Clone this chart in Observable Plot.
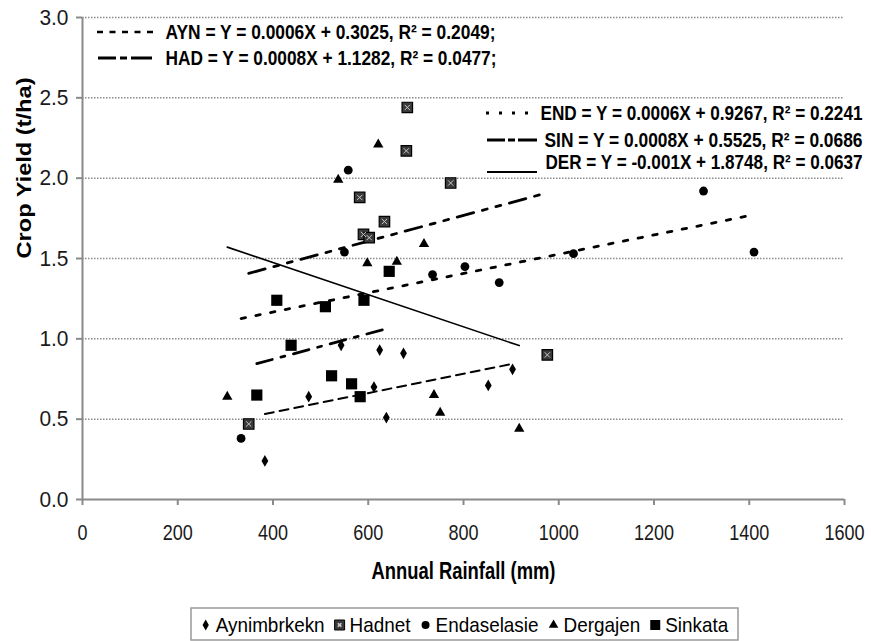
<!DOCTYPE html>
<html><head><meta charset="utf-8">
<script src="https://cdn.jsdelivr.net/npm/d3@7"></script>
<script src="https://cdn.jsdelivr.net/npm/@observablehq/plot@0.6"></script>
<style>
body{margin:0;background:#fff;font-family:"Liberation Sans",Arial,sans-serif;}
#chart{width:871px;}
#chart svg{display:block;}
</style></head><body><div id="chart"></div><script>
// ---- data ----
const seriesNames = ["Aynimbrkekn","Hadnet","Endaselasie","Dergajen","Sinkata"];
const aynRain  = [383,475,543,612,624,638,674,852,903];
const aynYield = [0.24,0.64,0.96,0.70,0.93,0.51,0.91,0.71,0.81];
const hadRain  = [349,582,590,602,634,680,682,773,976];
const hadYield = [0.47,1.88,1.65,1.63,1.73,2.17,2.44,1.97,0.90];
const endRain  = [333,550,558,735,803,875,1031,1304,1410];
const endYield = [0.38,1.54,2.05,1.40,1.45,1.35,1.53,1.92,1.54];
const derRain  = [304,537,598,621,660,717,738,751,917];
const derYield = [0.64,1.99,1.47,2.21,1.48,1.59,0.65,0.54,0.44];
const sinRain  = [366,408,438,510,523,565,583,591,644];
const sinYield = [0.65,1.24,0.96,1.20,0.77,0.72,0.64,1.24,1.42];

// trendline equations shown on the chart
const trendCodes      = ["AYN","HAD","END","SIN","DER"];
const trendSlopes     = [0.0006,0.0008,0.0006,0.0008,-0.001];
const trendIntercepts = [0.3025,1.1282,0.9267,0.5525,1.8748];
const trendR2         = [0.2049,0.0477,0.2241,0.0686,0.0637];
const trendSuffix     = [";",";","","",""];

const xTicks = [0,200,400,600,800,1000,1200,1400,1600];
const yTicks = [0,0.5,1.0,1.5,2.0,2.5,3.0];
const xTitle = "Annual Rainfall (mm)";
const yTitle = "Crop Yield (t/ha)";

// ---- build tables ----
const rec = (xs, ys) => xs.map((x,i)=>({rain:x, yield:ys[i]}));
const ayn = rec(aynRain, aynYield), had = rec(hadRain, hadYield),
      end = rec(endRain, endYield), der = rec(derRain, derYield),
      sin = rec(sinRain, sinYield);
const rainByCode = {AYN:aynRain, HAD:hadRain, END:endRain, SIN:sinRain, DER:derRain};
const trendLine = (k) => {
  const [lo, hi] = d3.extent(rainByCode[trendCodes[k]]);
  return [lo, hi].map(x => ({rain:x, yield: trendSlopes[k]*x + trendIntercepts[k]}));
};
const eqLabel = (k) => `${trendCodes[k]} = Y = ${trendSlopes[k]}X + ${trendIntercepts[k].toFixed(4)}, R\u00B2 = ${trendR2[k].toFixed(4)}${trendSuffix[k]}`;

// styles
const lineStyle = {
  AYN:{strokeDasharray:"9,6", strokeWidth:2},
  HAD:{strokeDasharray:"17,9,5,9,5,9", strokeWidth:2.8},
  END:{strokeDasharray:"4.5,10.5", strokeWidth:2.8},
  SIN:{strokeDasharray:"16,9,4,9", strokeWidth:2.8},
  DER:{strokeWidth:1.6}
};
const grey = "#8a8a8a";
const FONT = '"Liberation Sans", Arial, sans-serif';
const R = a => Math.sqrt(a/Math.PI);

const trendMarks = trendCodes.map((c,k) => Plot.line(trendLine(k), {x:"rain", y:"yield", stroke:"#000", ...lineStyle[c]}));

const eqLeft = [0,1].map((k,i) => Plot.text([eqLabel(k)], {text:d=>d, frameAnchor:"top-left", dx:83, dy:[15,41][i], textAnchor:"start", lineAnchor:"middle", fontWeight:"bold", fontSize:20, fill:"#000"}));
const eqRight = [2,3,4].map((k,i) => Plot.text([eqLabel(k)], {text:d=>d, frameAnchor:"top-right", dx:18, dy:[96,123,145][i], textAnchor:"end", lineAnchor:"middle", fontWeight:"bold", fontSize:20, fill:"#000"}));

const plot = Plot.plot({
  width:871, height:600,
  marginTop:17, marginLeft:82, marginRight:27, marginBottom:101,
  style:{fontFamily:FONT, fontSize:"20px", color:"#000", background:"#fff", overflow:"visible"},
  x:{domain:[0,1600]},
  y:{domain:[0,3]},
  marks:[
    Plot.gridY(yTicks.filter(d=>d>0), {stroke:grey, strokeOpacity:1, strokeWidth:1.5, strokeDasharray:"1.5,1.5"}),
    Plot.axisX({ticks:xTicks, tickSize:6, tickPadding:19, tickFormat:d=>String(d), label:null, stroke:grey, strokeWidth:2, fill:"#1a1a1a", fontSize:22}),
    Plot.axisY({ticks:yTicks, tickSize:6, tickPadding:8, tickFormat:d3.format(".1f"), label:null, stroke:grey, strokeWidth:2, fill:"#1a1a1a", fontSize:22}),
    Plot.ruleX([0], {stroke:grey, strokeWidth:2}),
    Plot.ruleY([0], {stroke:grey, strokeWidth:2}),
    ...trendMarks,
    Plot.dot(ayn, {x:"rain", y:"yield", symbol:"diamond", r:R(40), fill:"#000"}),
    Plot.dot(had, {x:"rain", y:"yield", symbol:"square", r:R(110), fill:"#3a3a3a", stroke:"#000", strokeWidth:1.2}),
    Plot.dot(had, {x:"rain", y:"yield", symbol:"times", r:2.5, stroke:"#c8c8c8", strokeWidth:1}),
    Plot.dot(end, {x:"rain", y:"yield", symbol:"circle", r:4.4, fill:"#000"}),
    Plot.dot(der, {x:"rain", y:"yield", symbol:"triangle", r:R(46), fill:"#000"}),
    Plot.dot(sin, {x:"rain", y:"yield", symbol:"square", r:R(125), fill:"#000"}),
    ...eqLeft, ...eqRight,
    Plot.text([xTitle], {text:d=>d, frameAnchor:"bottom", dy:79, fontWeight:"bold", fontSize:23, fill:"#000"}),
    Plot.text([yTitle], {text:d=>d, frameAnchor:"left", dx:-58, rotate:-90, fontWeight:"bold", fontSize:20, fill:"#000"})
  ]
});
document.getElementById("chart").append(plot);

// equation key samples (legend of trendlines)
const svg = d3.select(plot);
const keys = [
  {x1:97, x2:158, y:32, dash:"6,6.5", w:2.5},
  {x1:98, x2:152, y:58, dash:"18,4,7,4,21", w:3},
  {x1:486, x2:530, y:113, dash:"3,10", w:3},
  {x1:487, x2:537, y:140, dash:"18,3,7,3,19", w:3},
  {x1:487, x2:537, y:172, dash:null, w:2}
];
svg.append("g").selectAll("line").data(keys).join("line")
  .attr("x1", d=>d.x1).attr("x2", d=>d.x2).attr("y1", d=>d.y).attr("y2", d=>d.y)
  .attr("stroke","#000").attr("stroke-width", d=>d.w).attr("stroke-dasharray", d=>d.dash);

// condense/extend text to mimic the reference's (vertically stretched) proportions
function setLen(t, L){ t.setAttribute("textLength", L.toFixed(1)); t.setAttribute("lengthAdjust","spacingAndGlyphs"); }
const xTickSet = new Set(xTicks.map(String));
const yTickSet = new Set(yTicks.map(d3.format(".1f")));
const eqTexts = trendCodes.map((c,k) => eqLabel(k));
const eqWidths = [330, 331, 322, 318, 317];
plot.querySelectorAll("text").forEach(t => {
  const s = t.textContent, L = t.getComputedTextLength();
  if (xTickSet.has(s)) setLen(t, L*0.82);
  else if (yTickSet.has(s)) setLen(t, L*0.95);
  else if (eqTexts.includes(s)) setLen(t, eqWidths[eqTexts.indexOf(s)]);
  else if (s === xTitle) setLen(t, 184);
  else if (s === yTitle) setLen(t, 181);
});

// bottom legend
const lg = d3.select("#chart").append("svg").attr("width",871).attr("height",34).style("margin-top","7px").style("display","block");
lg.append("rect").attr("x",191).attr("y",1).attr("width",547).attr("height",32).attr("fill","none").attr("stroke","#999").attr("stroke-width",1.5);
const symDefs = [
  {type:d3.symbolDiamond, size:34, fill:"#000"},
  {type:d3.symbolSquare, size:100, fill:"#3a3a3a", times:true},
  {type:d3.symbolCircle, size:Math.PI*4*4, fill:"#000"},
  {type:d3.symbolTriangle, size:40, fill:"#000"},
  {type:d3.symbolSquare, size:100, fill:"#000"}
];
const items = lg.append("g");
const texts = seriesNames.map(n => items.append("text").attr("y",18).attr("dy","0.35em").attr("font-size",21).attr("font-family",FONT).attr("fill","#000").text(n));
const widths = texts.map(t => t.node().getComputedTextLength()*0.9);
texts.forEach((t,i) => t.attr("textLength", widths[i]).attr("lengthAdjust","spacingAndGlyphs"));
const symW = 10, gapS = 5, gapI = 10;
const total = d3.sum(widths) + seriesNames.length*(symW+gapS) + (seriesNames.length-1)*gapI;
let cur = 191 + (547-total)/2;
seriesNames.forEach((n,i)=>{
  const s = symDefs[i];
  const cx = cur + symW/2;
  items.append("path").attr("transform",`translate(${cx},18)`).attr("d", d3.symbol(s.type, s.size)()).attr("fill", s.fill).attr("stroke", s.times ? "#000" : null);
  if (s.times) items.append("path").attr("transform",`translate(${cx},18) rotate(45)`).attr("d", d3.symbol(d3.symbolCross, 14)()).attr("fill","#c8c8c8");
  texts[i].attr("x", cur + symW + gapS);
  cur += symW + gapS + widths[i] + gapI;
});
</script></body></html>
